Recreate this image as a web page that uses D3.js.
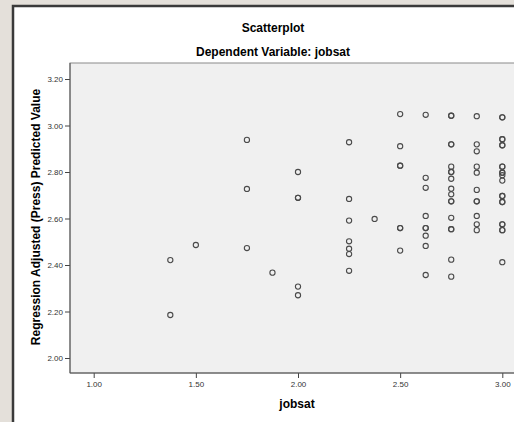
<!DOCTYPE html>
<style>
  html, body { margin:0; padding:0; background:#e4e0da; overflow:hidden; }
  text { font-family: "Liberation Sans", Arial, sans-serif; }
</style>
<svg width="514" height="422"></svg>
<script src="https://d3js.org/d3.v7.min.js"></script>
<script>

// jobsat (x) against Regression Adjusted (Press) Predicted Value (y)
var jobsat = [
  1.375, 1.375,
  1.5,
  1.75, 1.75, 1.75,
  1.875,
  2.0, 2.0, 2.0, 2.0, 2.0,
  2.25, 2.25, 2.25, 2.25, 2.25, 2.25, 2.25,
  2.375,
  2.5, 2.5, 2.5, 2.5, 2.5, 2.5, 2.5,
  2.625, 2.625, 2.625, 2.625, 2.625, 2.625, 2.625, 2.625, 2.625,
  2.75, 2.75, 2.75, 2.75, 2.75, 2.75, 2.75, 2.75, 2.75, 2.75, 2.75, 2.75, 2.75, 2.75, 2.75, 2.75, 2.75,
  2.875, 2.875, 2.875, 2.875, 2.875, 2.875, 2.875, 2.875, 2.875, 2.875, 2.875,
  3.0, 3.0, 3.0, 3.0, 3.0, 3.0, 3.0, 3.0, 3.0, 3.0, 3.0, 3.0, 3.0, 3.0, 3.0, 3.0, 3.0, 3.0, 3.0, 3.0, 3.0
];
var predicted = [
  2.421, 2.185,
  2.486,
  2.938, 2.727, 2.473,
  2.367,
  2.800, 2.689, 2.689, 2.307, 2.270,
  2.928, 2.684, 2.591, 2.502, 2.470, 2.447, 2.375,
  2.598,
  3.049, 2.911, 2.827, 2.827, 2.559, 2.559, 2.462,
  3.046, 2.775, 2.732, 2.611, 2.559, 2.559, 2.526, 2.482, 2.357,
  3.042, 3.042, 2.919, 2.919, 2.823, 2.800, 2.800, 2.771, 2.728, 2.704, 2.674, 2.674, 2.603, 2.554, 2.554, 2.423, 2.350,
  3.040, 2.919, 2.889, 2.823, 2.797, 2.723, 2.674, 2.674, 2.611, 2.575, 2.550,
  3.035, 3.035, 2.941, 2.941, 2.915, 2.915, 2.823, 2.823, 2.797, 2.797, 2.786, 2.763, 2.697, 2.697, 2.671, 2.671, 2.575, 2.575, 2.550, 2.550, 2.412
];
var xTicks = [1.00, 1.50, 2.00, 2.50, 3.00];
var yTicks = [2.00, 2.20, 2.40, 2.60, 2.80, 3.00, 3.20];

var svg = d3.select("svg");

// outer frame
svg.append("rect")
    .attr("x", 13).attr("y", 6)
    .attr("width", 540).attr("height", 440)
    .attr("fill", "#fff")
    .attr("stroke", "#3a3a3a")
    .attr("stroke-width", 2.5);

var x = d3.scaleLinear().domain([1, 3]).range([93.7, 502.3]),
    y = d3.scaleLinear().domain([2, 3.2]).range([358, 79]);

var pLeft = 70, pTop = 63, pBottom = 373, pRight = 530;

svg.append("rect")
    .attr("x", pLeft).attr("y", pTop)
    .attr("width", pRight - pLeft).attr("height", pBottom - pTop)
    .attr("fill", "#f0f0f0")
    .attr("stroke", "#8a8a8a")
    .attr("stroke-width", 1);

var fmt = d3.format(".2f");

var gx = svg.append("g")
    .attr("transform", "translate(0," + pBottom + ")")
    .call(d3.axisBottom(x).tickValues(xTicks).tickFormat(fmt).tickSize(5).tickPadding(3));

var gy = svg.append("g")
    .attr("transform", "translate(" + pLeft + ",0)")
    .call(d3.axisLeft(y).tickValues(yTicks).tickFormat(fmt).tickSize(5).tickPadding(2));

[gx, gy].forEach(function(g) {
  g.select(".domain").remove();
  g.selectAll(".tick line").attr("stroke", "#444");
  g.selectAll(".tick text")
      .attr("fill", "#333")
      .style("font-size", "8px")
      .style("font-family", "'Liberation Sans', Arial, sans-serif");
});

// axis lines
svg.append("line")
    .attr("x1", pLeft).attr("x2", pLeft).attr("y1", pTop).attr("y2", pBottom)
    .attr("stroke", "#555");
svg.append("line")
    .attr("x1", pLeft).attr("x2", pRight).attr("y1", pBottom).attr("y2", pBottom)
    .attr("stroke", "#555");

svg.append("g")
    .attr("fill", "none")
    .attr("stroke", "#4a4a4a")
    .attr("stroke-width", 1.1)
  .selectAll("circle")
  .data(d3.range(jobsat.length))
  .enter().append("circle")
    .attr("cx", function(i) { return x(jobsat[i]); })
    .attr("cy", function(i) { return y(predicted[i]); })
    .attr("r", 2.6);

svg.append("text")
    .attr("x", 273).attr("y", 32)
    .attr("text-anchor", "middle")
    .style("font-size", "12px").style("font-weight", "bold")
    .text("Scatterplot");

svg.append("text")
    .attr("x", 273).attr("y", 56)
    .attr("text-anchor", "middle")
    .style("font-size", "12px").style("font-weight", "bold")
    .text("Dependent Variable: jobsat");

svg.append("text")
    .attr("x", 297).attr("y", 408)
    .attr("text-anchor", "middle")
    .style("font-size", "12px").style("font-weight", "bold")
    .text("jobsat");

svg.append("text")
    .attr("transform", "translate(40,217) rotate(-90)")
    .attr("text-anchor", "middle")
    .style("font-size", "12px").style("font-weight", "bold")
    .text("Regression Adjusted (Press) Predicted Value");

</script>
